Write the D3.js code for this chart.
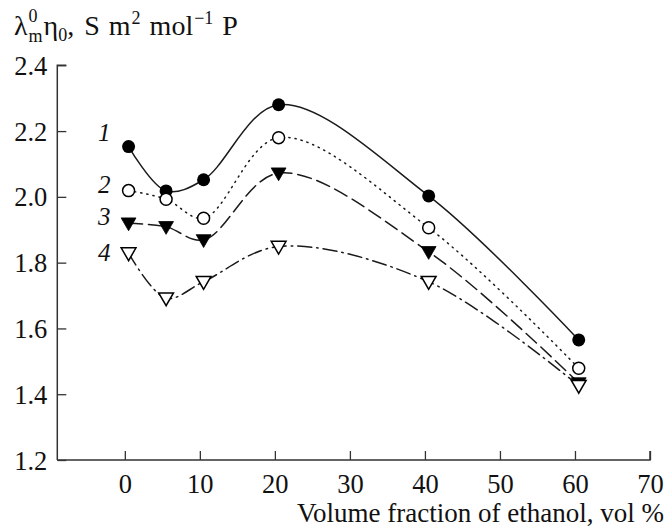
<!DOCTYPE html>
<html>
<head>
<meta charset="utf-8">
<script src="https://cdn.jsdelivr.net/npm/d3@7"></script>
<style>
  html, body { margin: 0; padding: 0; background: #fff; }
  svg { display: block; }
  text { font-family: "Liberation Serif", "Times New Roman", serif; fill: #111; }
</style>
</head>
<body>
<svg id="chart" width="667" height="529"></svg>
<script>
// Ethanol content of the mixed solvent, vol %
const ethanol = [0.5, 5.5, 10.5, 20.5, 40.5, 60.5];

// Walden product λ⁰m·η0 for the four systems
const series1 = [2.153, 2.018, 2.052, 2.280, 2.003, 1.565];
const series2 = [2.019, 1.993, 1.935, 2.180, 1.906, 1.479];
const series3 = [1.920, 1.909, 1.869, 2.072, 1.833, 1.434];
const series4 = [1.829, 1.692, 1.742, 1.849, 1.742, 1.426];

const seriesNames = ["1", "2", "3", "4"];
const xTicks = [0, 10, 20, 30, 40, 50, 60, 70];
const yTicks = [1.2, 1.4, 1.6, 1.8, 2.0, 2.2, 2.4];
const xTitle = "Volume fraction of ethanol, vol %";

const svg = d3.select("#chart");
const ink = "#1a1a1a";
const serif = "'Liberation Serif', 'Times New Roman', serif";

const x = d3.scaleLinear().domain([-9, 70]).range([57.3, 650]);
const y = d3.scaleLinear().domain([1.2, 2.4]).range([460, 65.3]);

// Axes: ticks point into the plot
const xAxis = d3.axisBottom(x).tickValues(xTicks).tickSize(-9).tickSizeOuter(0).tickFormat(d3.format("d"));
const yAxis = d3.axisLeft(y).tickValues(yTicks).tickSize(-9).tickSizeOuter(0).tickFormat(d3.format(".1f"));

const gx = svg.append("g").attr("transform", `translate(0,${y(1.2)})`).call(xAxis);
const gy = svg.append("g").attr("transform", `translate(${x(-9)},0)`).call(yAxis);

[gx, gy].forEach(g => {
  g.attr("font-family", null).attr("font-size", null);
  g.select(".domain").attr("stroke", "#333").attr("stroke-width", 1.5);
  g.selectAll(".tick line").attr("stroke", "#333").attr("stroke-width", 1.3);
  g.selectAll(".tick text").attr("fill", ink).style("font-size", "26.5px")
    .style("font-family", serif);
});
gx.selectAll(".tick text").attr("y", 14).attr("dy", "0.71em");
gy.selectAll(".tick text").attr("x", -10).attr("dy", "0.34em");

// the x axis line runs on to the 70 tick, the y axis closes with the 2.4 tick
gx.select(".domain").attr("d", `M${x(-9)},0H${x(70)}V-9`);
gy.select(".domain").attr("d", `M0,${y(1.2)}V${y(2.4)}H9`);

svg.append("text")
  .attr("x", 664).attr("y", 522)
  .attr("text-anchor", "end")
  .style("font-size", "27px")
  .text(xTitle);

// Quantity label: λ with stacked 0 / m, then η0 and the units,
// laid out piece by piece from measured widths.
// gap: space before the piece; dy: baseline shift; stack: share x with the previous piece
const unitParts = [
  { s: "λ",   f: 28, gap: 0,  dy: 0 },
  { s: "0",   f: 18, gap: 1,  dy: -13 },
  { s: "m",   f: 18, gap: 0,  dy: 7, stack: true },
  { s: "η",   f: 28, gap: 1,  dy: 0 },
  { s: "0",   f: 18, gap: 0,  dy: 6 },
  { s: ",",   f: 28, gap: 0,  dy: 0 },
  { s: "S",   f: 28, gap: 10, dy: 0 },
  { s: "m",   f: 28, gap: 9,  dy: 0 },
  { s: "2",   f: 18, gap: 1,  dy: -11 },
  { s: "mol", f: 28, gap: 9,  dy: 0 },
  { s: "−1",  f: 18, gap: 1,  dy: -11 },
  { s: "P",   f: 28, gap: 9,  dy: 0 }
];
const title = svg.append("g");
const baseY = 35;
let cursor = 14, stackStart = 14, stackEnd = 14;
unitParts.forEach(p => {
  const px = p.stack ? stackStart : Math.max(cursor, stackEnd) + p.gap;
  const el = title.append("text").attr("x", px).attr("y", baseY + p.dy)
    .style("font-size", p.f + "px").text(p.s);
  const w = el.node().getComputedTextLength();
  if (p.stack) {
    stackEnd = Math.max(stackEnd, px + w);
  } else {
    stackStart = px;
    stackEnd = px + w;
  }
  cursor = px + w;
});

const allSeries = [series1, series2, series3, series4];
const dashes = [null, "1.2,5", "14,6", "14,5,1.5,5"];

const line = d3.line()
  .x((d, i) => x(ethanol[i]))
  .y(d => y(d))
  .curve(d3.curveCatmullRom.alpha(0.5));

allSeries.forEach((vals, k) => {
  svg.append("path")
    .datum(vals)
    .attr("d", line)
    .attr("fill", "none")
    .attr("stroke", ink)
    .attr("stroke-width", 1.5)
    .attr("stroke-linecap", "round")
    .attr("stroke-dasharray", dashes[k]);
});

// Markers
const tri = d3.symbol().type(d3.symbolTriangle).size(95);
allSeries.forEach((vals, k) => {
  const g = svg.append("g");
  vals.forEach((v, i) => {
    const cx = x(ethanol[i]), cy = y(v);
    if (k === 0) {
      g.append("circle").attr("cx", cx).attr("cy", cy).attr("r", 6.5).attr("fill", "#000");
    } else if (k === 1) {
      g.append("circle").attr("cx", cx).attr("cy", cy).attr("r", 6).attr("fill", "#fff")
        .attr("stroke", "#000").attr("stroke-width", 1.5);
    } else {
      g.append("path").attr("d", tri)
        .attr("transform", `translate(${cx},${cy - 1}) rotate(180)`)
        .attr("fill", k === 2 ? "#000" : "#fff")
        .attr("stroke", "#000").attr("stroke-width", k === 2 ? 0.8 : 1.5);
    }
  });
  // series number to the left of the first point
  svg.append("text")
    .attr("x", x(ethanol[0]) - 18)
    .attr("y", [141, 193, 225, 261][k])
    .attr("text-anchor", "end")
    .style("font-size", "25px")
    .style("font-style", "italic")
    .text(seriesNames[k]);
});
</script>
</body>
</html>
